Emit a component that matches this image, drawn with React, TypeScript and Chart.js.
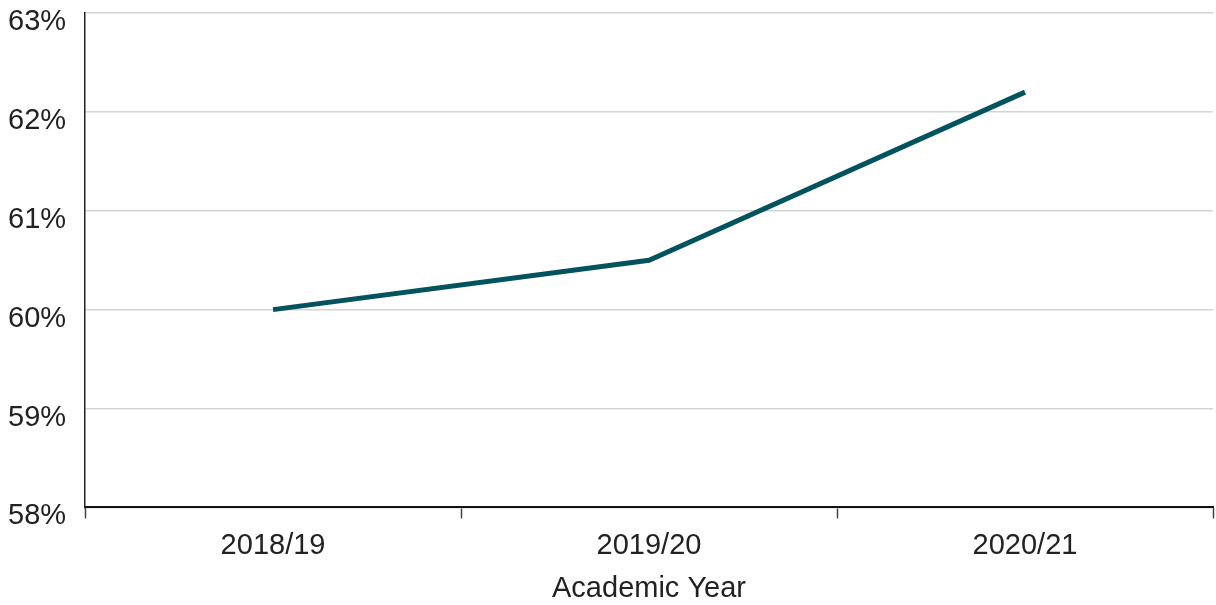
import React, { useEffect, useRef } from "react";
import { Chart, registerables } from "chart.js";

Chart.register(...registerables);

const categories = ["2018/19", "2019/20", "2020/21"];
const values = [60.0, 60.5, 62.2];
const yMin = 58;
const yMax = 63;
const xTitle = "Academic Year";

export default function App() {
  const ref = useRef<HTMLCanvasElement | null>(null);
  useEffect(() => {
    if (!ref.current) return;
    const family = "'Liberation Sans', Helvetica, Arial, sans-serif";
    const font = { family, size: 29 };
    const chart = new Chart(ref.current, {
      type: "line",
      data: {
        labels: categories,
        datasets: [
          {
            data: values,
            borderColor: "#03535f",
            borderWidth: 5,
            pointRadius: 0,
            tension: 0,
            fill: false,
          },
        ],
      },
      options: {
        animation: false,
        responsive: false,
        maintainAspectRatio: false,
        layout: { padding: { top: 13, right: 3, left: 8, bottom: -1 } },
        plugins: { legend: { display: false }, tooltip: { enabled: false } },
        scales: {
          x: {
            offset: true,
            grid: {
              offset: true,
              drawOnChartArea: false,
              drawTicks: true,
              tickLength: 11,
              tickColor: "#444",
              tickWidth: 1.5,
            },
            border: { color: "#111", width: 2 },
            ticks: { color: "#222", font, padding: 10 },
            title: { display: true, text: xTitle, color: "#222", font, padding: { top: -2, bottom: 0 } },
          },
          y: {
            min: yMin,
            max: yMax,
            grid: {
              color: "#d4d4d4",
              lineWidth: 1.5,
              drawTicks: true,
              tickLength: 19,
              tickColor: "rgba(0,0,0,0)",
            },
            border: { color: "#222", width: 1.5 },
            ticks: {
              stepSize: 1,
              color: "#222",
              font: { family, size: 29, lineHeight: 0.3 },
              padding: 0,
              labelOffset: 9,
              callback: (v: any) => `${v}%`,
            },
          },
        },
      },
    });
    return () => chart.destroy();
  }, []);
  return (
    <div style={{ position: "absolute", left: 0, top: 0, width: 1216, height: 605 }}>
      <canvas ref={ref} width={1216} height={605} />
    </div>
  );
}
